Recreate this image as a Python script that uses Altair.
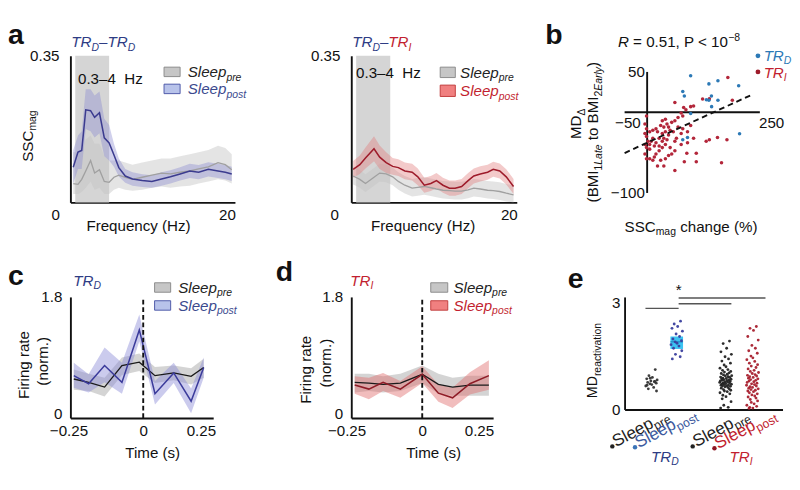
import math
import altair as alt
import pandas as pd

FONT = "Liberation Sans"
BLACK = "#111111"
NAVY = "#2e3c84"
RED = "#c21f30"

# ---------------- data ----------------
A1_FREQ = [0.35, 0.94, 1.4, 1.9, 2.5, 3.0, 3.6, 4.2, 4.8, 5.4, 6.0, 6.8, 7.7, 8.9, 10.1, 11.3, 12.4, 13.6, 14.8, 15.9, 17.1, 18.3, 19.2, 20.0]
A1_POST = [0.084, 0.12, 0.124, 0.221, 0.219, 0.203, 0.214, 0.154, 0.142, 0.113, 0.083, 0.063, 0.056, 0.052, 0.05, 0.056, 0.061, 0.068, 0.075, 0.072, 0.079, 0.075, 0.072, 0.068]
A1_POST_HI = [0.125, 0.16, 0.17, 0.27, 0.27, 0.255, 0.265, 0.2, 0.185, 0.14, 0.105, 0.08, 0.072, 0.067, 0.065, 0.072, 0.077, 0.084, 0.092, 0.089, 0.096, 0.092, 0.089, 0.085]
A1_POST_LO = [0.045, 0.08, 0.08, 0.175, 0.17, 0.155, 0.165, 0.11, 0.1, 0.085, 0.062, 0.047, 0.04, 0.037, 0.035, 0.04, 0.045, 0.052, 0.058, 0.055, 0.062, 0.058, 0.055, 0.051]
A1_PRE = [0.045, 0.043, 0.055, 0.075, 0.10, 0.07, 0.078, 0.05, 0.048, 0.06, 0.065, 0.06, 0.055, 0.06, 0.065, 0.07, 0.068, 0.072, 0.075, 0.08, 0.085, 0.095, 0.09, 0.078]
A1_PRE_HI = [0.12, 0.12, 0.13, 0.15, 0.16, 0.14, 0.14, 0.11, 0.1, 0.1, 0.1, 0.095, 0.09, 0.095, 0.1, 0.105, 0.105, 0.11, 0.115, 0.12, 0.125, 0.135, 0.13, 0.115]
A1_PRE_LO = [0.02, 0.02, 0.025, 0.035, 0.05, 0.03, 0.035, 0.02, 0.02, 0.03, 0.035, 0.03, 0.028, 0.03, 0.035, 0.038, 0.035, 0.038, 0.04, 0.045, 0.05, 0.055, 0.052, 0.045]

A2_FREQ = [0.23, 1.05, 1.75, 2.8, 3.5, 4.3, 5.1, 5.8, 6.6, 7.5, 8.2, 9.0, 9.8, 10.5, 11.3, 12.1, 12.8, 13.6, 14.4, 15.1, 15.9, 16.8, 17.5, 18.3, 19.1, 20.0]
A2_POST = [0.079, 0.09, 0.106, 0.128, 0.108, 0.095, 0.086, 0.083, 0.075, 0.072, 0.061, 0.041, 0.045, 0.052, 0.041, 0.034, 0.034, 0.038, 0.052, 0.063, 0.068, 0.072, 0.079, 0.075, 0.061, 0.038]
A2_POST_HI = [0.099, 0.112, 0.131, 0.158, 0.136, 0.12, 0.106, 0.103, 0.095, 0.092, 0.081, 0.059, 0.063, 0.07, 0.059, 0.052, 0.052, 0.056, 0.07, 0.081, 0.086, 0.09, 0.097, 0.093, 0.079, 0.056]
A2_POST_LO = [0.059, 0.068, 0.081, 0.098, 0.08, 0.07, 0.066, 0.063, 0.055, 0.052, 0.041, 0.023, 0.027, 0.034, 0.023, 0.016, 0.016, 0.02, 0.034, 0.045, 0.05, 0.054, 0.061, 0.057, 0.043, 0.02]
A2_PRE = [0.063, 0.055, 0.045, 0.06, 0.07, 0.068, 0.061, 0.05, 0.041, 0.034, 0.036, 0.038, 0.035, 0.032, 0.029, 0.028, 0.027, 0.027, 0.03, 0.034, 0.032, 0.029, 0.028, 0.026, 0.022, 0.018]
A2_PRE_HI = [0.085, 0.077, 0.067, 0.082, 0.092, 0.09, 0.083, 0.072, 0.063, 0.056, 0.058, 0.06, 0.057, 0.054, 0.051, 0.05, 0.049, 0.049, 0.052, 0.056, 0.054, 0.051, 0.05, 0.048, 0.044, 0.04]
A2_PRE_LO = [0.043, 0.035, 0.025, 0.04, 0.05, 0.048, 0.041, 0.03, 0.021, 0.014, 0.016, 0.018, 0.015, 0.012, 0.009, 0.008, 0.007, 0.007, 0.01, 0.014, 0.012, 0.009, 0.008, 0.006, 0.002, 0.0]

BAND_HZ = [0.6, 4.8]
A_YMAX = 0.35
A_XMAX = 20.4

B_TRD_X = [96.5, 137, 157, 203, 79, 82.5, 142.6, 131.4, 137, 157, 143, 96.5, 79, 89.5, 205]
B_TRD_Y = [45.4, 35.2, 39.1, 32.8, 25.8, 20.3, 20.3, 15.6, 14.9, 14.9, 7.0, -1.6, -34, -31.3, -26.6]
B_TRI_X = [179, 189, 138, 123, 103, 96.5, 81, 61.5, 86, 75.5,
           79, 68.5, 61.5, 54.5, 40.5, 33.6, 44, 37, 30, 47.5,
           19.6, 12.6, 5.6, -1.4, -4.9, -1.4, -4.9, -1.4, 2.1, -4.9,
           -1.4, 5.6, -4.9, -1.4, 5.6, 19.6, 16, 26.6, 33.6, 40.5,
           33.6, 37, 44, 47.5, 51, 54.5, 61.5, 65, 75.5, 79,
           89.5, 96.5, 103, 131, 138, 156, 177, 88, 109, 82.5,
           109, 165, 61.5, 37, 23, 12.6, 26.6, 19.6, 9.1, 12.6,
           5.6, 16, 26.6, 33.6, 23, 40.5, 51, 58, 68.5, 30,
           40.5, 47.5, 61.5, 75.5, 89.5]
B_TRI_Y = [43, 14.9, 16.8, 16.4, 7.8, 7.0, 5.9, 12.1, 3.1, -0.8,
           -4.7, -6.6, -10.6, -12.5, -8.6, -10.6, -14.5, -18.4, -16.4, -18.4,
           -20.3, -22.3, -24.2, -4.7, -14.5, -20.3, -26.2, -30.1, -36, -39.9,
           -43.8, -45.7, -51.6, -57.5, -57.5, -51.6, -55.5, -47.7, -43.8, -39.9,
           -36, -32.1, -34, -28.2, -43.8, -51.6, -36, -32.1, -26.2, -20.3,
           -24.2, -16.4, -32.1, -36, -34, -31.3, -34, -50.8, -50.8, -61.4,
           -61.4, -62.6, -72.3, -66.5, -66.5, -59.4, -32.1, -37.9, -36, -32.1,
           -39.9, -41.8, -41.8, -26.2, -24.2, -24.2, -22.3, -24.2, -18.4, -59.4,
           -57.5, -53.6, -47.7, -39.9, -37.9]
B_FIT_X = [-50, 236]
B_FIT_Y = [-50.5, 22.7]
B_XDOM = [-50, 250]
B_YDOM = [-111.7, 70]

C_T = [-0.248, -0.195, -0.138, -0.076, -0.014, 0.042, 0.109, 0.171, 0.216]
C_POST = [0.63, 0.51, 0.78, 0.53, 1.31, 0.36, 0.67, 0.25, 0.75]
C_POST_HI = [0.82, 0.65, 1.05, 0.82, 1.54, 0.55, 0.82, 0.44, 0.90]
C_POST_LO = [0.45, 0.38, 0.53, 0.36, 1.14, 0.20, 0.52, 0.07, 0.60]
C_PRE = [0.58, 0.53, 0.46, 0.78, 0.83, 0.63, 0.67, 0.62, 0.75]
C_PRE_HI = [0.72, 0.66, 0.60, 0.90, 0.96, 0.76, 0.78, 0.74, 0.88]
C_PRE_LO = [0.42, 0.40, 0.32, 0.64, 0.70, 0.52, 0.56, 0.50, 0.60]

D_T = [-0.238, -0.188, -0.138, -0.077, 0.0, 0.057, 0.107, 0.168, 0.235]
D_POST = [0.49, 0.43, 0.53, 0.43, 0.65, 0.37, 0.30, 0.51, 0.63]
D_POST_HI = [0.62, 0.60, 0.67, 0.55, 0.77, 0.50, 0.45, 0.68, 0.86]
D_POST_LO = [0.36, 0.28, 0.40, 0.30, 0.52, 0.24, 0.15, 0.35, 0.42]
D_PRE = [0.53, 0.52, 0.50, 0.52, 0.65, 0.50, 0.46, 0.49, 0.49]
D_PRE_HI = [0.66, 0.66, 0.62, 0.66, 0.78, 0.66, 0.60, 0.63, 0.63]
D_PRE_LO = [0.38, 0.40, 0.38, 0.40, 0.52, 0.36, 0.33, 0.33, 0.33]
FR_YMAX = 1.8

E_CENTERS = [0.85, 1.65, 3.2, 4.05]
E_TRD_PRE = [1.12, 0.95, 0.90, 0.86, 0.83, 0.80, 0.78, 0.76, 0.74, 0.72, 0.70, 0.66, 0.62, 0.58, 0.52, 0.88, 0.79, 0.68]
E_TRD_POST = [2.48, 2.40, 2.33, 2.28, 2.20, 2.12, 2.05, 1.98, 1.93, 1.90, 1.86, 1.82, 1.78, 1.72, 1.65, 1.55, 1.48, 1.42]
E_TRI_PRE = [1.92, 1.85, 1.72, 1.62, 1.55, 1.48, 1.42, 1.36, 1.30, 1.25,
             1.20, 1.16, 1.12, 1.10, 1.07, 1.05, 1.03, 1.01, 0.99, 0.97,
             0.95, 0.94, 0.92, 0.91, 0.90, 0.88, 0.87, 0.86, 0.85, 0.84,
             0.83, 0.82, 0.81, 0.80, 0.79, 0.78, 0.77, 0.76, 0.75, 0.74,
             0.73, 0.72, 0.71, 0.70, 0.69, 0.68, 0.67, 0.66, 0.65, 0.64,
             0.62, 0.60, 0.58, 0.56, 0.54, 0.52, 0.50, 0.47, 0.44, 0.40,
             0.36, 0.30, 0.22, 0.12, 0.06, 0.04]
E_TRI_POST = [2.33, 2.28, 2.22, 2.05, 1.95, 1.80, 1.72, 1.65, 1.58, 1.50,
              1.45, 1.40, 1.35, 1.30, 1.26, 1.22, 1.18, 1.14, 1.10, 1.07,
              1.04, 1.01, 0.98, 0.96, 0.94, 0.92, 0.90, 0.88, 0.86, 0.84,
              0.82, 0.80, 0.78, 0.76, 0.74, 0.72, 0.70, 0.68, 0.66, 0.64,
              0.62, 0.60, 0.58, 0.56, 0.54, 0.52, 0.50, 0.47, 0.44, 0.41,
              0.38, 0.35, 0.32, 0.28, 0.24, 0.20, 0.16, 0.12, 0.09, 0.06,
              0.04, 0.03]
E_JIT = [0.12, -0.08, 0.03, -0.15, 0.18, -0.02, 0.09, -0.12, 0.15, -0.05,
         0.01, -0.18, 0.07, -0.10, 0.16, -0.04, 0.11, -0.14, 0.05, -0.07,
         0.19, -0.01, 0.08, -0.16, 0.13, -0.09, 0.02, -0.13, 0.17, -0.06,
         0.10, -0.11, 0.04, -0.17, 0.14, -0.03, 0.06, -0.19, 0.12, -0.08,
         0.00, -0.12, 0.18, -0.05, 0.09, -0.15, 0.03, -0.10, 0.15, -0.02,
         0.07, -0.14, 0.11, -0.07, 0.16, -0.04, 0.05, -0.18, 0.13, -0.09,
         0.01, -0.11, 0.17, -0.06, 0.08, -0.16, 0.10, -0.03, 0.14, -0.13]
E_BOX = [1.70, 2.05]
E_MEDIAN = 1.90
E_SIG_X1 = [0.66, 1.71, 1.71]
E_SIG_X2 = [1.71, 3.38, 4.46]
E_SIG_Y = [2.84, 2.97, 3.13]
E_STAR = [1.71, 3.35]
E_XDOM = [0, 5]
E_YDOM = [0, 3.16]

# ---------------- layout (page pixels of each plot area) ----------------
O_A1, O_A2, O_B = (74, 45), (333, 45), (622, 45)
O_C, O_D, O_E = (74, 300), (348, 300), (610, 300)
W_A1, W_A2, W_B, H1 = 174, 175, 143, 155
W_C, W_D, W_E, H_C, H_E = 151, 150, 167, 128, 119

CW = {'T': .611, 'R': .722, 'D': .722, 'I': .278, 'S': .667, 'C': .722, 'M': .833, 'B': .667,
      'L': .556, 'E': .667, 'P': .667, 'H': .722, 'a': .556, 'b': .556, 'c': .5, 'd': .556,
      'e': .556, 'f': .278, 'g': .556, 'h': .556, 'i': .222, 'j': .222, 'k': .5, 'l': .222,
      'm': .833, 'n': .556, 'o': .556, 'p': .556, 'q': .556, 'r': .333, 's': .5, 't': .278,
      'u': .556, 'v': .5, 'w': .722, 'x': .5, 'y': .5, 'z': .5, ' ': .278, '(': .333, ')': .333,
      '%': .889, '.': .278, ',': .278, '=': .584, '<': .584, '–': .556, '−': .584, 'Δ': .668}


def tw(s, size):
    return sum(CW.get(ch, 0.556) for ch in s) * size


ONE = pd.DataFrame({"k": [0]})


def T(o, px, py, s, size=16, color=BLACK, style="normal", weight="normal", angle=0,
      align="left", baseline="alphabetic"):
    return alt.Chart(ONE).mark_text(
        text=s, font=FONT, fontSize=size, color=color, fontStyle=style, fontWeight=weight,
        angle=angle, align=align, baseline=baseline
    ).encode(x=alt.value(px - o[0]), y=alt.value(py - o[1]))


def RICH(o, px, py, parts, angle=0):
    """Text made of pieces with their own size / baseline shift (sub- and superscripts)."""
    th = math.radians(angle)
    c, s_ = math.cos(th), math.sin(th)
    out, adv = [], 0.0
    for s, size, shift, color, style in parts:
        lead = len(s) - len(s.lstrip(" "))
        adv += tw(s[:lead], size)
        s = s.lstrip(" ")
        x = px + adv * c - shift * s_
        y = py + adv * s_ + shift * c
        out.append(T(o, x, y, s, size, color, style, angle=angle))
        adv += tw(s, size)
    return out


def BOX(o, x1, y1, x2, y2, fill, stroke):
    return alt.Chart(ONE).mark_rect(fill=fill, stroke=stroke, strokeWidth=1).encode(
        x=alt.value(x1 - o[0]), x2=alt.value(x2 - o[0]),
        y=alt.value(y1 - o[1]), y2=alt.value(y2 - o[1]))


def DOT(o, px, py, color, size=22):
    return alt.Chart(ONE).mark_circle(color=color, size=size, opacity=1).encode(
        x=alt.value(px - o[0]), y=alt.value(py - o[1]))


def sleep_parts(sub, color, size=16, sub_size=11, style="italic"):
    return [("Sleep", size, 0, color, style), (sub, sub_size, 4, color, style)]


FMT = ".2~f"
HZ = "0.3–4\u00a0\u00a0Hz"


def panel_a(o, w, freq, post, post_hi, post_lo, pre, pre_hi, pre_lo, post_line, post_fill, zero_off):
    dpost = pd.DataFrame({"f": freq, "m": post, "hi": post_hi, "lo": post_lo})
    dpre = pd.DataFrame({"f": freq, "m": pre, "hi": pre_hi, "lo": pre_lo})
    xax = alt.Axis(values=[0, 20], title=None, labelPadding=5, labelFlush=False, format=FMT,
                   labelOffset={"condition": {"test": "datum.value == 0", "value": zero_off}, "value": -5})
    yax = alt.Axis(values=[A_YMAX], title=None, labelPadding=12, labelFlush=False, format=FMT)
    xs = alt.Scale(domain=[0, A_XMAX], nice=False, zero=False)
    ys = alt.Scale(domain=[0, A_YMAX], nice=False, zero=False)

    def X(f):
        return alt.X(f, scale=xs, axis=xax)

    def Y(f):
        return alt.Y(f, scale=ys, axis=yax)

    band = alt.Chart(pd.DataFrame({"x": [BAND_HZ[0]], "x2": [BAND_HZ[1]], "y": [0.0], "y2": [A_YMAX]})
                     ).mark_rect(color="#d5d5d5").encode(x=X("x:Q"), x2=alt.X2("x2"), y=Y("y:Q"), y2=alt.Y2("y2"))
    pre_area = alt.Chart(dpre).mark_area(color="#c4c4c4", opacity=0.45).encode(
        x=X("f:Q"), y=Y("lo:Q"), y2=alt.Y2("hi"))
    post_area = alt.Chart(dpost).mark_area(color=post_fill, opacity=0.4).encode(
        x=X("f:Q"), y=Y("lo:Q"), y2=alt.Y2("hi"))
    pre_ln = alt.Chart(dpre).mark_line(color="#a0a0a0", strokeWidth=1.4).encode(x=X("f:Q"), y=Y("m:Q"))
    post_ln = alt.Chart(dpost).mark_line(color=post_line, strokeWidth=1.6).encode(x=X("f:Q"), y=Y("m:Q"))
    return [band, pre_area, post_area, pre_ln, post_ln]


a1 = panel_a(O_A1, W_A1, A1_FREQ, A1_POST, A1_POST_HI, A1_POST_LO, A1_PRE, A1_PRE_HI, A1_PRE_LO,
             "#3b3b8f", "#8a8ad0", -16)
a1 += [T(O_A1, 8, 32, "a", 30, weight="bold")]
a1 += RICH(O_A1, 75, 36, [("TR", 16, 0, NAVY, "italic"), ("D", 11, 4, NAVY, "italic"),
                          ("–TR", 16, 0, NAVY, "italic"), ("D", 11, 4, NAVY, "italic")])
a1 += [T(O_A1, 82, 75, HZ, 16)]
a1 += [BOX(O_A1, 173, 57, 190, 67, "#c6c6c6", "#8a8a8a"), BOX(O_A1, 173, 75, 190, 85, "#b8c3ea", "#4a56a6")]
a1 += RICH(O_A1, 198, 67.5, sleep_parts("pre", "#222222"))
a1 += RICH(O_A1, 198, 85.5, sleep_parts("post", "#3b4a8e"))
a1 += RICH(O_A1, 34, 157, [("SSC", 16, 0, BLACK, "normal"), ("mag", 11, 4, BLACK, "normal")], angle=270)
a1 += [T(O_A1, 146, 225, "Frequency (Hz)", 16, align="center", baseline="middle")]
A1 = alt.layer(*a1).properties(width=W_A1, height=H1)

a2 = panel_a(O_A2, W_A2, A2_FREQ, A2_POST, A2_POST_HI, A2_POST_LO, A2_PRE, A2_PRE_HI, A2_PRE_LO,
             "#9e1b2a", "#e07a7a", -18)
a2 += RICH(O_A2, 334, 36, [("TR", 16, 0, NAVY, "italic"), ("D", 11, 4, NAVY, "italic"),
                           ("–", 16, 0, NAVY, "italic"), ("TR", 16, 0, RED, "italic"), ("I", 11, 4, RED, "italic")])
a2 += [T(O_A2, 338, 68, HZ, 16)]
a2 += [BOX(O_A2, 427, 57, 443, 68, "#c6c6c6", "#8a8a8a"), BOX(O_A2, 427, 76, 443, 88, "#f08080", "#c03a3a")]
a2 += RICH(O_A2, 448, 68, sleep_parts("pre", "#222222"))
a2 += RICH(O_A2, 448, 87.5, sleep_parts("post", RED))
a2 += [T(O_A2, 409, 225, "Frequency (Hz)", 16, align="center", baseline="middle")]
A2 = alt.layer(*a2).properties(width=W_A2, height=H1)

bxs = alt.Scale(domain=B_XDOM, nice=False, zero=False)
bys = alt.Scale(domain=B_YDOM, nice=False, zero=False)
bxax = alt.Axis(values=[-50, 250], title=None, domain=False, offset=-95, labelPadding=3, labelFlush=False,
                format=FMT, labelOffset={"condition": {"test": "datum.value < 0", "value": 3}, "value": 12})
byax = alt.Axis(values=[50, -100], title=None, domain=False, offset=-24, labelPadding=3, labelFlush=False,
                format=FMT)


def BX(f):
    return alt.X(f, scale=bxs, axis=bxax)


def BY(f):
    return alt.Y(f, scale=bys, axis=byax)


b_cross = pd.DataFrame({"x": [0, B_XDOM[0]], "x2": [0, B_XDOM[1]], "y": [-100, 0], "y2": [50, 0]})
b_layers = [
    alt.Chart(b_cross).mark_rule(color=BLACK, strokeWidth=2).encode(
        x=BX("x:Q"), x2=alt.X2("x2"), y=BY("y:Q"), y2=alt.Y2("y2")),
    alt.Chart(pd.DataFrame({"x": B_TRI_X, "y": B_TRI_Y})).mark_circle(color="#b3263a", size=14, opacity=1).encode(
        x=BX("x:Q"), y=BY("y:Q")),
    alt.Chart(pd.DataFrame({"x": B_TRD_X, "y": B_TRD_Y})).mark_circle(color="#2c79b6", size=14, opacity=1).encode(
        x=BX("x:Q"), y=BY("y:Q")),
    alt.Chart(pd.DataFrame({"x": B_FIT_X, "y": B_FIT_Y})).mark_line(color=BLACK, strokeWidth=2, strokeDash=[6, 4]).encode(
        x=BX("x:Q"), y=BY("y:Q")),
    T(O_B, 538, 33, "b", 30, weight="bold"),
    DOT(O_B, 763, 45, "#2c79b6", 26), DOT(O_B, 763, 62, "#9e1b2a", 26),
]
b_layers += RICH(O_B, 615, 36, [("R", 16, 0, BLACK, "italic"), (" = 0.51, P < 10", 16, 0, BLACK, "normal"),
                                ("−8", 11, -7, BLACK, "normal")])
b_layers += RICH(O_B, 769, 50, [("TR", 16, 0, "#2c79b6", "italic"), ("D", 11, 4, "#2c79b6", "italic")])
b_layers += RICH(O_B, 769, 68, [("TR", 16, 0, RED, "italic"), ("I", 11, 4, RED, "italic")])
b_layers += RICH(O_B, 576, 133, [("MD", 16, 0, BLACK, "normal"), ("Δ", 11, 4, BLACK, "normal")], angle=270)
b_layers += RICH(O_B, 594, 200, [("(BMI", 16, 0, BLACK, "normal"), ("1", 11, 4, BLACK, "normal"),
                                 ("Late", 11, 4, BLACK, "italic"), (" to BMI", 16, 0, BLACK, "normal"),
                                 ("2", 11, 4, BLACK, "normal"), ("Early", 11, 4, BLACK, "italic"),
                                 (")", 16, 0, BLACK, "normal")], angle=270)
b_layers += RICH(O_B, 622, 231, [("SSC", 16, 0, BLACK, "normal"), ("mag", 11, 4, BLACK, "normal"),
                                 (" change (%)", 16, 0, BLACK, "normal")])
B = alt.layer(*b_layers).properties(width=W_B, height=H1)


def panel_fr(o, w, xdom, t, post, post_hi, post_lo, pre, pre_hi, pre_lo, post_line, post_fill, hi_off):
    dpost = pd.DataFrame({"t": t, "m": post, "hi": post_hi, "lo": post_lo})
    dpre = pd.DataFrame({"t": t, "m": pre, "hi": pre_hi, "lo": pre_lo})
    xax = alt.Axis(values=[-0.25, 0, 0.25], title=None, labelPadding=6, labelFlush=False, format=FMT,
                   labelOffset={"condition": [{"test": "datum.value < -0.1", "value": -5},
                                              {"test": "datum.value > 0.1", "value": hi_off}], "value": 0})
    yax = alt.Axis(values=[0, FR_YMAX], title=None, labelPadding=9, labelFlush=False, format=FMT,
                   labelOffset={"condition": {"test": "datum.value == 0", "value": -4}, "value": 0})
    xs = alt.Scale(domain=xdom, nice=False, zero=False)
    ys = alt.Scale(domain=[0, FR_YMAX], nice=False, zero=False)

    def X(f):
        return alt.X(f, scale=xs, axis=xax)

    def Y(f):
        return alt.Y(f, scale=ys, axis=yax)

    return [
        alt.Chart(dpre).mark_area(color="#a9a9a9", opacity=0.5).encode(x=X("t:Q"), y=Y("lo:Q"), y2=alt.Y2("hi")),
        alt.Chart(dpost).mark_area(color=post_fill, opacity=0.45).encode(x=X("t:Q"), y=Y("lo:Q"), y2=alt.Y2("hi")),
        alt.Chart(dpre).mark_line(color="#1a1a1a", strokeWidth=1.4).encode(x=X("t:Q"), y=Y("m:Q")),
        alt.Chart(dpost).mark_line(color=post_line, strokeWidth=1.6).encode(x=X("t:Q"), y=Y("m:Q")),
        alt.Chart(pd.DataFrame({"x": [0.0], "y": [0.0], "y2": [FR_YMAX]})).mark_rule(
            color=BLACK, strokeWidth=2, strokeDash=[5, 3]).encode(x=X("x:Q"), y=Y("y:Q"), y2=alt.Y2("y2")),
    ]


c = panel_fr(O_C, W_C, [-0.26, 0.25], C_T, C_POST, C_POST_HI, C_POST_LO, C_PRE, C_PRE_HI, C_PRE_LO,
             "#3b3b9b", "#8c8cd6", -13)
c += [T(O_C, 8, 287, "c", 30, weight="bold")]
c += RICH(O_C, 77, 288, [("TR", 16, 0, NAVY, "italic"), ("D", 11, 4, NAVY, "italic")])
c += [BOX(O_C, 163, 285, 180, 295, "#c6c6c6", "#8a8a8a"), BOX(O_C, 163, 304, 180, 314, "#b8c3ea", "#4a56a6")]
c += RICH(O_C, 188, 295.5, sleep_parts("pre", "#222222"))
c += RICH(O_C, 188, 314.5, sleep_parts("post", "#3b4a8e"))
c += [T(O_C, 25, 372, "Firing rate", 16, angle=270, align="center", baseline="middle"),
      T(O_C, 45, 368, "(norm.)", 16, angle=270, align="center", baseline="middle"),
      T(O_C, 161, 465, "Time (s)", 16, align="center", baseline="middle")]
C = alt.layer(*c).properties(width=W_C, height=H_C)

d = panel_fr(O_D, W_D, [-0.25, 0.25], D_T, D_POST, D_POST_HI, D_POST_LO, D_PRE, D_PRE_HI, D_PRE_LO,
             "#8e1b26", "#e06c6c", -15)
d += [T(O_D, 268, 283, "d", 30, weight="bold")]
d += RICH(O_D, 347, 288, [("TR", 16, 0, RED, "italic"), ("I", 11, 4, RED, "italic")])
d += [BOX(O_D, 432, 285, 450, 295, "#c6c6c6", "#8a8a8a"), BOX(O_D, 432, 304, 450, 314, "#f08080", "#c03a3a")]
d += RICH(O_D, 456, 295.5, sleep_parts("pre", "#222222"))
d += RICH(O_D, 456, 314.5, sleep_parts("post", RED))
d += [T(O_D, 300, 377, "Firing rate", 16, angle=270, align="center", baseline="middle"),
      T(O_D, 322, 370, "(norm.)", 16, angle=270, align="center", baseline="middle"),
      T(O_D, 435, 465, "Time (s)", 16, align="center", baseline="middle")]
D = alt.layer(*d).properties(width=W_D, height=H_C)

exs = alt.Scale(domain=E_XDOM, nice=False, zero=False)
eys = alt.Scale(domain=E_YDOM, nice=False, zero=False)
exax = alt.Axis(values=[], labels=False, title=None)
eyax = alt.Axis(values=[0, 3], title=None, labelPadding=5, labelFlush=False, format=FMT)


def EX(f):
    return alt.X(f, scale=exs, axis=exax)


def EY(f):
    return alt.Y(f, scale=eys, axis=eyax)


groups = [("trd_pre", E_TRD_PRE), ("trd_post", E_TRD_POST), ("tri_pre", E_TRI_PRE), ("tri_post", E_TRI_POST)]
rows = []
for gi, (g, vals) in enumerate(groups):
    for k, v in enumerate(vals):
        rows.append({"g": g, "x": E_CENTERS[gi] + E_JIT[k], "y": v})
e_pts = pd.DataFrame(rows)

e_layers = [
    alt.Chart(pd.DataFrame({"x": [E_CENTERS[1] - 0.2], "x2": [E_CENTERS[1] + 0.2], "y": [E_BOX[0]], "y2": [E_BOX[1]]})
              ).mark_rect(color="#3cc3f2").encode(x=EX("x:Q"), x2=alt.X2("x2"), y=EY("y:Q"), y2=alt.Y2("y2")),
    alt.Chart(pd.DataFrame({"x": [E_CENTERS[1] - 0.2], "x2": [E_CENTERS[1] + 0.2], "y": [E_MEDIAN]})
              ).mark_rule(color="#1d86c0", strokeWidth=1.2).encode(x=EX("x:Q"), x2=alt.X2("x2"), y=EY("y:Q")),
    alt.Chart(e_pts).mark_circle(size=9, opacity=0.95).encode(
        x=EX("x:Q"), y=EY("y:Q"),
        color=alt.Color("g:N", legend=None, scale=alt.Scale(
            domain=["trd_pre", "trd_post", "tri_pre", "tri_post"],
            range=["#333333", "#3a3f9e", "#222222", "#a8202e"]))),
    alt.Chart(pd.DataFrame({"x": E_SIG_X1, "x2": E_SIG_X2, "y": E_SIG_Y})).mark_rule(
        color="#555555", strokeWidth=1.5).encode(x=EX("x:Q"), x2=alt.X2("x2"), y=EY("y:Q")),
    alt.Chart(pd.DataFrame({"x": [E_STAR[0]], "y": [E_STAR[1]]})).mark_text(
        text="*", font=FONT, fontSize=16, color=BLACK, baseline="middle").encode(x=EX("x:Q"), y=EY("y:Q")),
    T(O_E, 550, 290, "e", 30, weight="bold"),
]
e_layers += RICH(O_E, 581, 407, [("MD", 15, 0, BLACK, "normal"), ("reactivation", 11, 4, BLACK, "normal")], angle=270)
for (dx, dy, dcol, sub, tcol) in [(597, 458, "#222222", "pre", "#222222"),
                                  (621, 459, "#3d74b8", "post", "#3d5a9e"),
                                  (682, 458, "#222222", "pre", "#222222"),
                                  (705, 460, "#8e1520", "post", RED)]:
    e_layers.append(DOT(O_E, dx, dy, dcol, 22))
    e_layers += RICH(O_E, dx + 4, dy + 1, sleep_parts(sub, tcol, 18, 13, "normal"), angle=332)
e_layers += RICH(O_E, 638, 474, [("TR", 16, 0, NAVY, "italic"), ("D", 11, 4, NAVY, "italic")])
e_layers += RICH(O_E, 721, 474, [("TR", 16, 0, RED, "italic"), ("I", 11, 4, RED, "italic")])
E = alt.layer(*e_layers).properties(width=W_E, height=H_E)


def spacer(w, h):
    return alt.Chart(ONE).mark_point(opacity=0).encode(x=alt.value(0), y=alt.value(0)).properties(width=w, height=h)


chart = alt.concat(
    A1, spacer(O_A2[0] - O_A1[0] - W_A1, H1), A2, spacer(O_B[0] - O_A2[0] - W_A2, H1), B,
    C, spacer(O_D[0] - O_C[0] - W_C, H_C), D, spacer(O_E[0] - O_D[0] - W_D, H_C), E,
    columns=5, spacing={"row": O_C[1] - O_A1[1] - H1, "column": 0}, bounds="flush", align="none",
    padding=0, background="white",
).configure_view(stroke=None).configure_axis(
    labelFont=FONT, labelFontSize=16, labelColor=BLACK, domainColor=BLACK, domainWidth=2,
    ticks=False, grid=False,
)

chart.save("out.html", embed_options={"renderer": "svg", "actions": False})
